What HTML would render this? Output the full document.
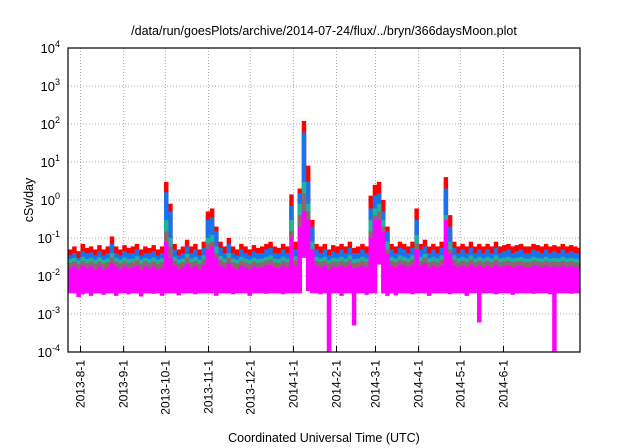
<!DOCTYPE html>
<html><head><meta charset="utf-8"><style>
html,body{margin:0;padding:0;background:#fff;width:640px;height:448px;overflow:hidden}
svg{display:block;font-family:"Liberation Sans",sans-serif}
</style></head><body>
<svg id="chart" width="640" height="448" viewBox="0 0 640 448" xmlns="http://www.w3.org/2000/svg">
<text x="324" y="35" font-size="12.5" text-anchor="middle">/data/run/goesPlots/archive/2014-07-24/flux/../bryn/366daysMoon.plot</text>
<text transform="translate(33,200) rotate(-90)" font-size="12.5" text-anchor="middle">cSv/day</text>
<text x="324" y="442" font-size="12.5" text-anchor="middle">Coordinated Universal Time (UTC)</text>
<g id="grid"></g><g id="series"></g><g id="axes"></g>
</svg>
<script>
const tickDays=[9,40,70,101,131,162,193,221,252,282,313];
const tickLabels=["2013-8-1","2013-9-1","2013-10-1","2013-11-1","2013-12-1","2014-1-1","2014-2-1","2014-3-1","2014-4-1","2014-5-1","2014-6-1"];
const yExps=[-4,-3,-2,-1,0,1,2,3,4];
const stepDays=3;
const redTop=[0.05,0.06,0.045,0.07,0.055,0.06,0.05,0.065,0.05,0.06,0.11,0.06,0.05,0.065,0.055,0.06,0.07,0.05,0.06,0.055,0.065,0.05,0.06,3,0.8,0.07,0.05,0.06,0.09,0.06,0.07,0.05,0.08,0.5,0.6,0.2,0.08,0.06,0.1,0.06,0.05,0.07,0.06,0.05,0.065,0.055,0.06,0.07,0.08,0.06,0.055,0.07,0.06,1.4,0.08,2,120,8,0.3,0.07,0.06,0.07,0.05,0.065,0.06,0.07,0.06,0.08,0.055,0.06,0.07,0.06,1.3,2.5,3,1,0.2,0.07,0.06,0.08,0.07,0.06,0.08,0.6,0.07,0.09,0.06,0.07,0.06,0.08,4,0.4,0.08,0.06,0.07,0.06,0.08,0.06,0.07,0.06,0.07,0.06,0.08,0.06,0.065,0.07,0.06,0.065,0.07,0.06,0.06,0.07,0.065,0.06,0.07,0.06,0.065,0.06,0.07,0.06,0.065,0.06,0.055];
const blueTop=[0.035,0.04,0.03,0.045,0.04,0.042,0.035,0.045,0.035,0.04,0.07,0.04,0.035,0.045,0.04,0.04,0.05,0.035,0.04,0.04,0.045,0.035,0.04,1.6,0.5,0.05,0.035,0.04,0.06,0.04,0.05,0.035,0.055,0.3,0.35,0.15,0.055,0.04,0.07,0.04,0.035,0.05,0.04,0.035,0.045,0.04,0.04,0.05,0.055,0.04,0.04,0.05,0.04,0.7,0.05,1.5,60,3,0.2,0.05,0.04,0.05,0.035,0.045,0.04,0.05,0.04,0.055,0.04,0.04,0.05,0.04,0.6,1.3,1.5,0.5,0.15,0.05,0.04,0.055,0.05,0.04,0.055,0.3,0.05,0.06,0.04,0.05,0.04,0.055,2,0.2,0.055,0.04,0.05,0.04,0.055,0.04,0.05,0.04,0.05,0.04,0.055,0.04,0.045,0.05,0.04,0.045,0.05,0.04,0.04,0.05,0.045,0.04,0.05,0.04,0.045,0.04,0.05,0.04,0.045,0.04,0.04];
const greenTop=[.028,.03,.026,.032,.028,.03,.027,.031,.027,.029,.04,.03,.027,.031,.028,.029,.033,.027,.03,.028,.031,.027,.029,.3,.1,.032,.027,.029,.038,.029,.032,.027,.035,.1,.12,.06,.034,.029,.04,.029,.027,.032,.029,.027,.03,.028,.029,.032,.035,.029,.028,.032,.029,.3,.033,.8,3,.8,.08,.032,.029,.032,.026,.03,.029,.032,.029,.035,.028,.029,.032,.029,.3,.6,.8,.3,.08,.032,.029,.035,.032,.029,.035,.12,.032,.038,.029,.032,.029,.035,.4,.08,.035,.029,.032,.029,.035,.029,.032,.029,.032,.029,.035,.029,.03,.032,.029,.03,.032,.029,.029,.032,.03,.029,.032,.029,.03,.029,.032,.029,.03,.029,.028];
const brownTop=[.022,.024,.021,.025,.022,.024,.021,.024,.021,.023,.03,.024,.021,.024,.022,.023,.026,.021,.024,.022,.024,.021,.023,.15,.06,.025,.021,.023,.03,.023,.025,.021,.027,.07,.08,.04,.026,.023,.03,.023,.021,.025,.023,.021,.024,.022,.023,.025,.027,.023,.022,.025,.023,.15,.026,.4,1.5,.5,.05,.025,.023,.025,.021,.024,.023,.025,.023,.027,.022,.023,.025,.023,.15,.4,.5,.2,.05,.025,.023,.027,.025,.023,.027,.07,.025,.03,.023,.025,.023,.027,.3,.05,.027,.023,.025,.023,.027,.023,.025,.023,.025,.023,.027,.023,.024,.025,.023,.024,.025,.023,.023,.025,.024,.023,.025,.023,.024,.023,.025,.023,.024,.023,.022];
const magentaTop=[.016,.018,.015,.019,.016,.018,.015,.018,.015,.017,.022,.018,.015,.018,.016,.017,.019,.015,.018,.016,.018,.015,.017,.08,.03,.019,.015,.017,.021,.017,.019,.015,.02,.05,.06,.03,.019,.017,.022,.017,.015,.019,.017,.015,.018,.016,.017,.019,.02,.017,.016,.019,.017,.1,.019,.2,.5,.3,.05,.019,.017,.019,.015,.018,.017,.019,.017,.02,.016,.017,.019,.017,.1,.3,.3,.15,.04,.019,.017,.02,.019,.017,.02,.05,.019,.022,.017,.019,.017,.02,.3,.04,.02,.017,.019,.017,.02,.017,.019,.017,.019,.017,.02,.017,.018,.019,.017,.018,.019,.017,.017,.019,.018,.017,.019,.017,.018,.017,.019,.017,.018,.017,.016];
const magentaBottom=[.0035,.0035,.0028,.0033,.0035,.003,.0035,.0035,.0032,.0035,.0035,.003,.0035,.0035,.0033,.0035,.0035,.0029,.0035,.0035,.0034,.0035,.003,.0035,.0035,.0035,.0031,.0035,.0035,.0035,.0033,.0035,.0035,.0035,.0035,.003,.0035,.0035,.0035,.0033,.0035,.0035,.0035,.003,.0035,.0035,.0035,.0034,.0035,.0035,.0035,.0033,.0035,.0035,.0035,.0035,.03,.004,.0035,.0035,.0033,.0035,.0001,.0035,.0035,.003,.0035,.0035,.0005,.0035,.0035,.0032,.0035,.0035,.02,.0035,.003,.0035,.0031,.0035,.0035,.0035,.0033,.0035,.0035,.0035,.003,.0035,.0035,.0035,.0035,.0033,.0035,.0035,.0035,.003,.0035,.0035,.0006,.0035,.0035,.0035,.0033,.0035,.0035,.0035,.0032,.0035,.0035,.0035,.0035,.0034,.0035,.0035,.0035,.0033,.0001,.0035,.0035,.0035,.0034,.0035,.0035];

const L=68,R=580,T=48,B=352,NS="http://www.w3.org/2000/svg";
const x=d=>L+d*(R-L)/368;
const y=v=>B-(Math.log10(v)+4)*(B-T)/8;
function mk(tag,attrs,parent){const e=document.createElementNS(NS,tag);for(const k in attrs)e.setAttribute(k,attrs[k]);parent.appendChild(e);return e;}
const grid=document.getElementById('grid'),ser=document.getElementById('series'),ax=document.getElementById('axes');
tickDays.forEach((d,i)=>{
  const g=mk('line',{x1:x(d),x2:x(d),y1:T,y2:B,stroke:'#aaa','stroke-dasharray':'1,2','stroke-width':1},grid);
  
  
  const t=mk('line',{x1:x(d),x2:x(d),y1:B,y2:B-6,stroke:'#000'},ax);
  
  
  const lb=mk('text',{transform:`translate(${x(d)+4},${B+8}) rotate(-90)`,'font-size':12,'text-anchor':'end'},ax);
  lb.textContent=tickLabels[i];
  
  
});
yExps.forEach(e=>{
  const v=Math.pow(10,e);
  if(e>-4&&e<4){const g=mk('line',{x1:L,x2:R,y1:y(v),y2:y(v),stroke:'#aaa','stroke-dasharray':'1,2'},grid);
  
  }
  const lb=mk('text',{x:L-8,y:y(v)+5,'font-size':13,'text-anchor':'end'},ax);
  lb.innerHTML='10<tspan dy="-6" font-size="9">'+e+'</tspan>';
  
  
});
function bars(top,bottom,color,name){
  const g=mk('g',{fill:color},ser);
  
  
  top.forEach((v,i)=>{
    const x0=x(i*stepDays),x1=Math.min(x(i*stepDays+stepDays),R);
    const yt=y(v),yb=y(Math.min(bottom[i],v));
    mk('rect',{x:x0.toFixed(2),y:yt.toFixed(2),width:(x1-x0+0.3).toFixed(2),height:Math.max(0,yb-yt).toFixed(2)},g);
  });
}
bars(redTop,magentaTop,'#ff0000','series-red');
bars(blueTop,magentaTop,'#1a72ec','series-blue');
bars(greenTop,magentaTop,'#1fb39b','series-green');
bars(brownTop,magentaTop,'#8c6670','series-brown');
bars(magentaTop,magentaBottom,'#ff00ff','series-magenta');
const f=mk('rect',{x:L,y:T,width:R-L,height:B-T,fill:'none',stroke:'#000','stroke-width':1.2},ax);


</script>
</body></html>
